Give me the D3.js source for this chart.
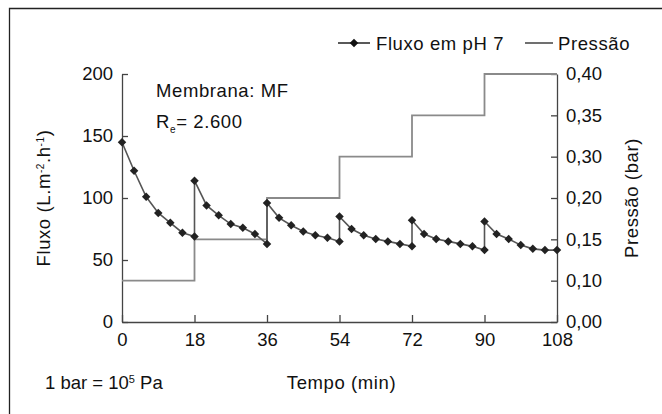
<!DOCTYPE html>
<html>
<head>
<meta charset="utf-8">
<script src="https://cdn.jsdelivr.net/npm/d3@7"></script>
<style>
  body { margin: 0; background: #fff; }
  svg { display: block; font-family: "Liberation Sans", Arial, sans-serif; }
  .lbl { letter-spacing: 0.6px; }
</style>
</head>
<body>
<svg id="chart"></svg>
<script>
let w = 662;
let h = 414;
let margin = {top: 74, right: 105, bottom: 92, left: 122};
let chart;

// tempo (min) - repeated times are the jumps after each pressure step
const tempo = [0, 3, 6, 9, 12, 15, 18,
    18, 21, 24, 27, 30, 33, 36,
    36, 39, 42, 45, 48, 51, 54,
    54, 57, 60, 63, 66, 69, 72,
    72, 75, 78, 81, 84, 87, 90,
    90, 93, 96, 99, 102, 105, 108];
const fluxo = [145, 122, 101, 88, 80, 72, 69,
    114, 94, 86, 79, 76, 71, 63,
    96, 84, 78, 73, 70, 68, 65,
    85, 75, 70, 67, 65, 63, 61,
    82, 71, 67, 65, 63, 61, 58,
    81, 71, 67, 62, 59, 58, 58];

// pressure steps (bar)
const pressaoInicio = [0, 18, 36, 54, 72, 90];
const pressao = [0.10, 0.15, 0.20, 0.30, 0.35, 0.40];

const xTicks = [0, 18, 36, 54, 72, 90, 108];
const yTicks = [0, 50, 100, 150, 200];
const pTicks = [0.00, 0.10, 0.15, 0.20, 0.30, 0.35, 0.40];

function createGraph() {
    chart = d3.select('#chart')
        .attr('width', w)
        .attr('height', h)

    const iw = w - margin.left - margin.right;
    const ih = h - margin.top - margin.bottom;

    // frame (only top + left visible)
    chart.append('path')
        .attr('d', `M9.5,${h} V8.5 H${w}`)
        .style('fill', 'none')
        .style('stroke', '#222')
        .style('stroke-width', 1.3)

    const g = chart.append('g')
        .attr('transform', `translate(${margin.left},${margin.top})`)

    const x = d3.scaleLinear().domain([0, 108]).range([0, iw]);
    const y = d3.scaleLinear().domain([0, 200]).range([ih, 0]);
    // right axis: labels evenly spaced although values are not
    const yP = d3.scaleLinear()
        .domain(pTicks)
        .range(pTicks.map((d, i) => ih - i * ih / (pTicks.length - 1)));

    const fmtP = d => d3.format('.2f')(d).replace('.', ',');

    const xAxis = g.append('g')
        .attr('transform', `translate(0,${ih})`)
        .call(d3.axisBottom(x).tickValues(xTicks).tickSizeInner(-7).tickSizeOuter(0).tickPadding(11))
    const yAxis = g.append('g')
        .call(d3.axisLeft(y).tickValues(yTicks).tickSizeInner(-6).tickSizeOuter(0).tickPadding(9))
    const pAxis = g.append('g')
        .attr('transform', `translate(${iw},0)`)
        .call(d3.axisRight(yP).tickValues(pTicks).tickFormat(fmtP).tickSizeInner(-6).tickSizeOuter(0).tickPadding(9))

    ;[xAxis, yAxis, pAxis].forEach(a => {
        a.selectAll('path, line').style('stroke', '#444').style('stroke-width', 1.3)
        a.selectAll('text').style('font-size', '18.5px').style('fill', '#111').style('font-family', null)
    })
    xAxis.selectAll('text').attr('dy', '0.72em')

    // pressure step line
    const steps = [];
    pressao.forEach((p, i) => {
        const x1 = i < pressao.length - 1 ? pressaoInicio[i + 1] : 108;
        steps.push([pressaoInicio[i], p]);
        steps.push([x1, p]);
    });
    g.append('path')
        .datum(steps)
        .attr('d', d3.line().x(d => x(d[0])).y(d => yP(d[1])))
        .style('fill', 'none')
        .style('stroke', '#8a8a8a')
        .style('stroke-width', 1.8)

    // flux line + diamonds
    const pts = tempo.map((t, i) => [t, fluxo[i]]);
    g.append('path')
        .datum(pts)
        .attr('d', d3.line().x(d => x(d[0])).y(d => y(d[1])))
        .style('fill', 'none')
        .style('stroke', '#555')
        .style('stroke-width', 1.6)

    const diamond = d3.symbol(d3.symbolDiamond2, 46);
    g.selectAll('.pt')
        .data(pts)
        .enter()
        .append('path')
        .attr('class', 'pt')
        .attr('d', diamond)
        .attr('transform', d => `translate(${x(d[0])},${y(d[1])})`)
        .style('fill', '#222')

    // legend
    const lg = chart.append('g').attr('class', 'lbl').style('font-size', '18.5px').style('fill', '#111')
    lg.append('line').attr('x1', 338).attr('x2', 370).attr('y1', 43).attr('y2', 43)
        .style('stroke', '#222').style('stroke-width', 1.5)
    lg.append('path').attr('d', diamond).attr('transform', 'translate(354,43)').style('fill', '#111')
    lg.append('text').attr('x', 376).attr('y', 49.5).text('Fluxo em pH 7')
    lg.append('line').attr('x1', 525).attr('x2', 553).attr('y1', 43).attr('y2', 43)
        .style('stroke', '#222').style('stroke-width', 1.3)
    lg.append('text').attr('x', 558).attr('y', 49.5).text('Pressão')

    // annotation
    const an = chart.append('g').attr('class', 'lbl').style('font-size', '18.5px').style('fill', '#111')
    an.append('text').attr('x', 156).attr('y', 97).text('Membrana: MF')
    const re = an.append('text').attr('x', 156).attr('y', 128)
    re.append('tspan').text('R')
    re.append('tspan').attr('dy', 5).style('font-size', '10px').text('e')
    re.append('tspan').attr('dy', -5).text('= 2.600')

    // axis titles
    const yt = chart.append('text')
        .attr('class', 'lbl')
        .attr('transform', `translate(50,${margin.top + ih / 2}) rotate(-90)`)
        .style('text-anchor', 'middle')
        .style('font-size', '18.5px')
        .style('fill', '#111')
    yt.append('tspan').text('Fluxo (L.m')
    yt.append('tspan').attr('dy', -6).style('font-size', '10px').text('-2')
    yt.append('tspan').attr('dy', 6).text('.h')
    yt.append('tspan').attr('dy', -6).style('font-size', '10px').text('-1')
    yt.append('tspan').attr('dy', 6).text(')')

    chart.append('text')
        .attr('class', 'lbl')
        .attr('transform', `translate(638,${margin.top + ih / 2}) rotate(-90)`)
        .style('text-anchor', 'middle')
        .style('font-size', '18.5px')
        .style('fill', '#111')
        .text('Pressão (bar)')

    chart.append('text')
        .attr('class', 'lbl')
        .attr('x', margin.left + iw / 2 + 2)
        .attr('y', 389)
        .style('text-anchor', 'middle')
        .style('font-size', '18.5px')
        .style('fill', '#111')
        .text('Tempo (min)')

    const note = chart.append('text')
        .attr('x', 45)
        .attr('y', 389)
        .style('font-size', '18.5px')
        .style('fill', '#111')
    note.append('tspan').text('1 bar = 10')
    note.append('tspan').attr('dy', -6).style('font-size', '11px').text('5')
    note.append('tspan').attr('dy', 6).text(' Pa')
}

createGraph();
</script>
</body>
</html>
